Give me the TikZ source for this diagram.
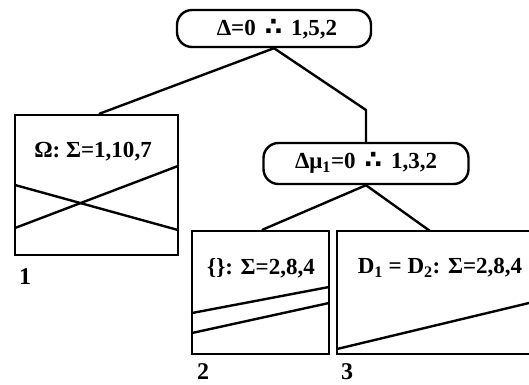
\documentclass[tikz,border=0pt]{standalone}
\usepackage{fontspec}
\setmainfont{Liberation Serif}
\newfontfamily\dvs{DejaVu Sans}
\newcommand{\thr}{\hspace{9pt}{\dvs\fontsize{25}{27}\selectfont ∴}\hspace{9pt}}
\tikzset{
  ln/.style={line width=2.4pt, line cap=round, line join=round},
  pill/.style={draw, line width=2.4pt, rounded corners=15pt, inner sep=0pt},
  panel/.style={draw, line width=2.6pt, inner sep=0pt},
  txt/.style={font=\fontsize{23}{27}\selectfont\bfseries, inner sep=0pt},
  lab/.style={font=\fontsize{24}{28}\selectfont\bfseries, inner sep=0pt}
}
\begin{document}
\begin{tikzpicture}[x=1pt,y=-1pt]
\useasboundingbox (0,0) rectangle (529,384);
\clip (0,0) rectangle (529,384);
% nodes
\node[pill, minimum width=194pt, minimum height=37pt] (t) at (274,28.5) {};
\node[txt] (tt) at (277,29) {Δ=0\thr 1,5,2};
\node[panel, minimum width=163pt, minimum height=140pt] (b1) at (96.5,185) {};
\node[pill, minimum width=205pt, minimum height=41pt] (n2) at (366,163.5) {};
\node[txt] (n2t) at (366,163) {Δμ\textsubscript{1}=0\thr 1,3,2};
\node[panel, minimum width=137pt, minimum height=123pt] (b2) at (260.5,292.5) {};
\node[panel, minimum width=203pt, minimum height=123pt] (b3) at (438.5,292.5) {};
% connectors
\coordinate (bend) at (366,110);
\coordinate (b3top) at (430,231);
\draw[ln] (t.south) -- ([xshift=3pt]b1.north);
\draw[ln] (t.south) -- (bend) -- (n2.north);
\draw[ln] (n2.south) -- ([xshift=2pt]b2.north);
\draw[ln] (n2.south) -- (b3top);
% inner lines
\draw[ln] (15,185) -- (178,230);
\draw[ln] (15,228) -- (178,166);
\draw[ln] (192,313) -- (329,287);
\draw[ln] (192,333) -- (329,303);
\draw[ln] (337,349) -- (529,303);
% texts
\node[txt] (t1) at (93,152) {Ω: Σ=1,10,7};
\node[txt] (t2) at (261,268) {\{\}: Σ=2,8,4};
\node[txt] (t3) at (440,268) {D\textsubscript{1} = D\textsubscript{2}: Σ=2,8,4};
\node[lab] (l1) at (25,277) {1};
\node[lab] (l2) at (203,372) {2};
\node[lab] (l3) at (347,372) {3};
\end{tikzpicture}
\end{document}
